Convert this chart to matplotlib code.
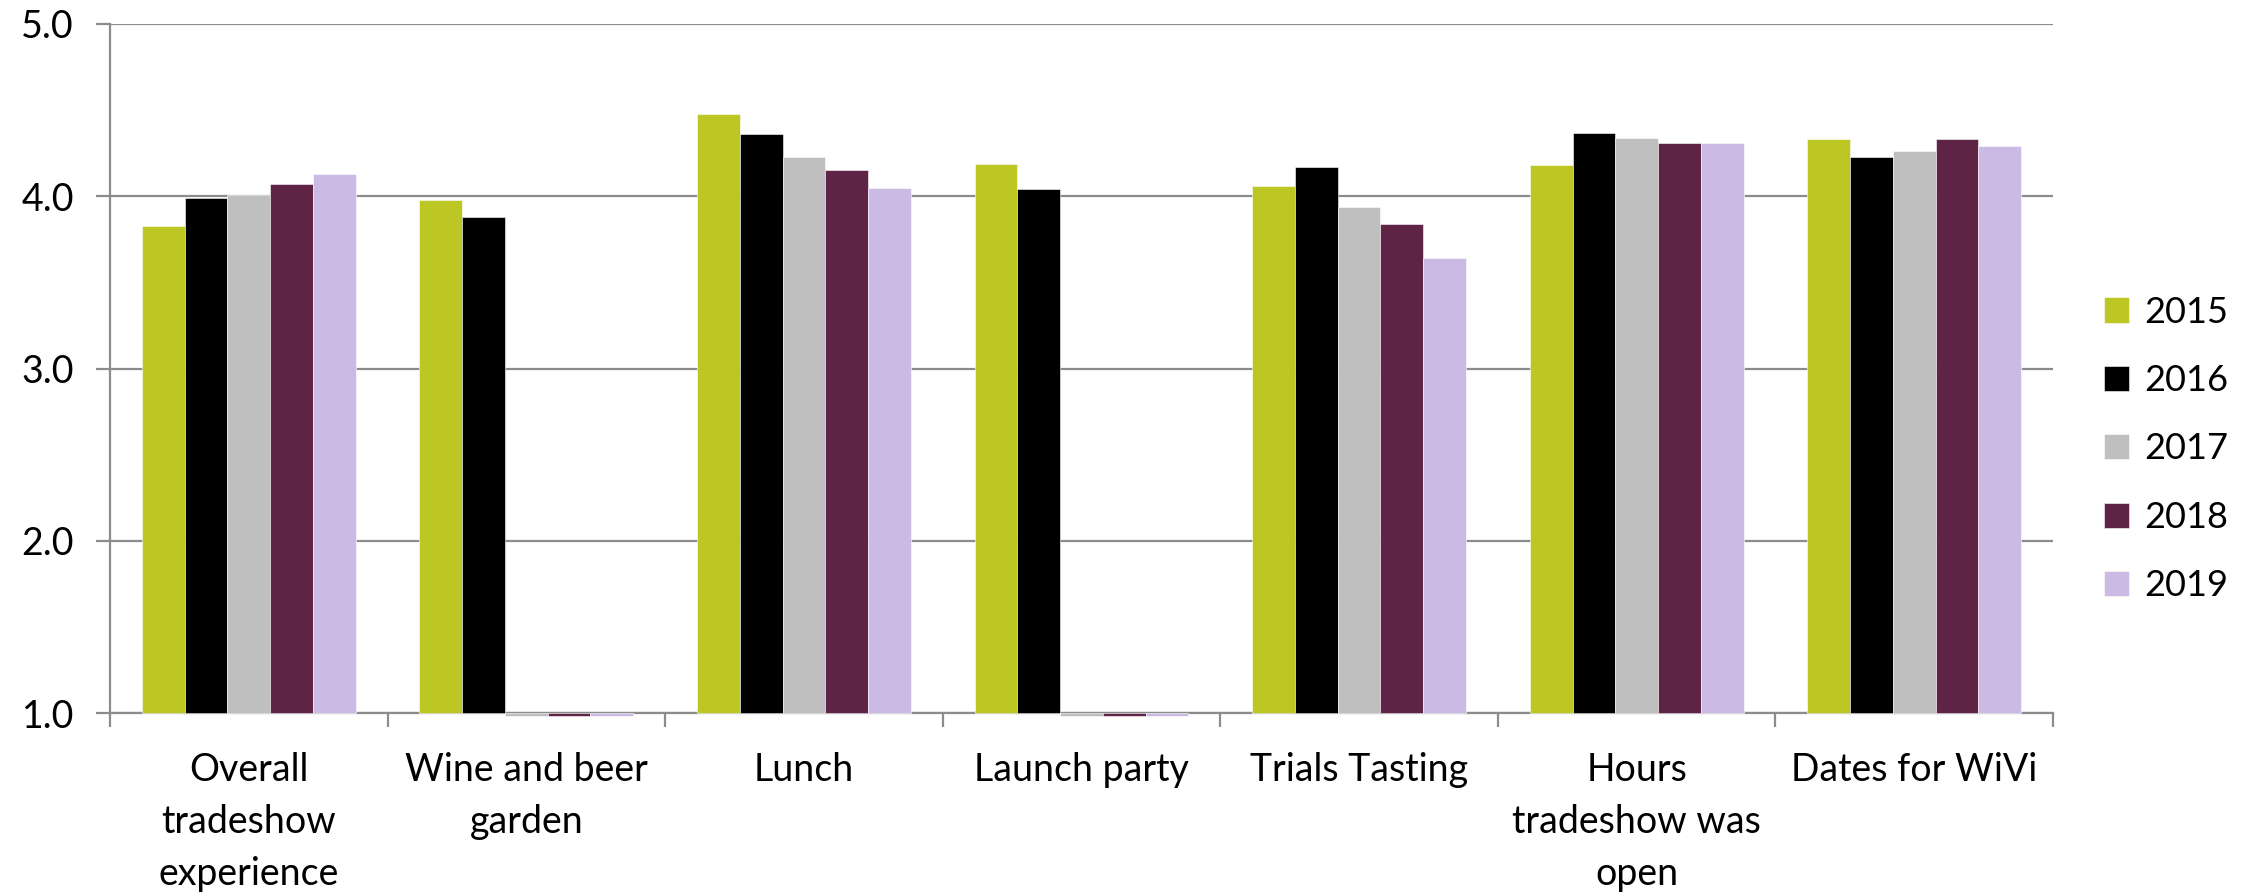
import numpy as np
import matplotlib
matplotlib.use("Agg")
import matplotlib.pyplot as plt

plt.rcParams['font.family'] = ['Lato', 'DejaVu Sans']

categories = ["Overall\ntradeshow\nexperience", "Wine and beer\ngarden", "Lunch",
              "Launch party", "Trials Tasting", "Hours\ntradeshow was\nopen", "Dates for WiVi"]
years = ["2015", "2016", "2017", "2018", "2019"]
# missing years show as a tiny stub just under the axis (0.985)
v2015 = [3.83, 3.98, 4.48, 4.19, 4.06, 4.18, 4.33]
v2016 = [3.99, 3.88, 4.36, 4.04, 4.17, 4.37, 4.23]
v2017 = [4.01, 0.985, 4.23, 0.985, 3.94, 4.34, 4.26]
v2018 = [4.07, 0.985, 4.15, 0.985, 3.84, 4.31, 4.33]
v2019 = [4.13, 0.985, 4.05, 0.985, 3.64, 4.31, 4.29]
colors = ["#BDC724", "#000000", "#BFBFBF", "#5F2346", "#CBBBE4"]

series = [v2015, v2016, v2017, v2018, v2019]
base = 1.0

fig = plt.figure(figsize=(22.49, 8.93), dpi=100)
ax = fig.add_axes([110/2249, 1-713/893, (2053-110)/2249, (713-24)/893])

x = np.arange(len(categories))
w = 0.154
for i, (vals, c, yr) in enumerate(zip(series, colors, years)):
    h = np.array(vals) - base
    ax.bar(x + (i - 2) * w, h, width=w, bottom=base, color=c, label=yr,
           edgecolor='white', linewidth=0.4, clip_on=False, zorder=3)

ax.set_ylim(1, 5)
ax.set_xlim(-0.5, len(categories) - 0.5)
ax.set_yticks([1, 2, 3, 4, 5])
ax.set_yticklabels(["1.0", "2.0", "3.0", "4.0", "5.0"], fontsize=27)
ax.yaxis.grid(True, color='#8C8C8C', linewidth=1.6, zorder=0)
ax.set_axisbelow(True)

ax.set_xticks(x)
ax.set_xticklabels(categories, fontsize=27, linespacing=1.55, va='top')
ax.tick_params(axis='x', which='major', length=0, pad=28)
ax.set_xticks(np.arange(len(categories) + 1) - 0.5, minor=True)
ax.tick_params(axis='x', which='minor', length=10, width=1.6, color='#8C8C8C')
ax.tick_params(axis='y', length=10, width=1.6, color='#8C8C8C', pad=16)

for s in ['top', 'right']:
    ax.spines[s].set_visible(False)
for s in ['left', 'bottom']:
    ax.spines[s].set_color('#8C8C8C')
    ax.spines[s].set_linewidth(1.6)

fig.legend(loc='center left', bbox_to_anchor=(2086/2249, 1-449/893), frameon=False,
           fontsize=26, handlelength=0.7, handleheight=0.7, handletextpad=0.4,
           labelspacing=0.98, borderpad=0)

fig.savefig("out.png", dpi=100)
